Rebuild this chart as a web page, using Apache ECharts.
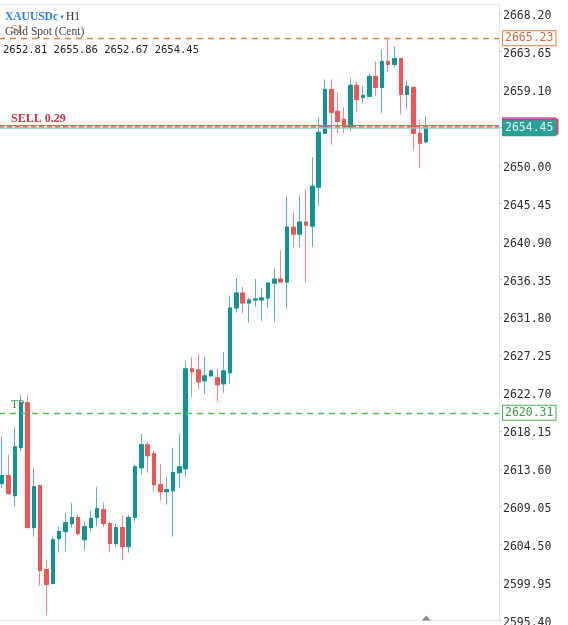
<!DOCTYPE html>
<html>
<head>
<meta charset="utf-8">
<title>XAUUSDc H1</title>
<script src="https://cdn.jsdelivr.net/npm/echarts@6/dist/echarts.min.js"></script>
<style>
  html, body { margin: 0; padding: 0; background: #fff; }
  #chart { width: 568px; height: 625px; }
</style>
</head>
<body>
<div id="chart"></div>
<script>
// hourly candles, oldest first
const opens = [2611.81, 2612.77, 2610.37, 2616.12, 2621.51, 2606.54, 2611.57, 2601.51, 2599.84, 2605.22,
  2606.06, 2607.02, 2607.74, 2605.10, 2606.54, 2607.74, 2608.69, 2607.02, 2604.62, 2606.54,
  2604.26, 2607.74, 2613.72, 2616.48, 2615.40, 2611.69, 2610.85, 2610.97, 2613.13, 2613.60,
  2625.58, 2625.46, 2624.14, 2624.74, 2624.50, 2623.78, 2625.10, 2632.88, 2634.68, 2633.48,
  2633.84, 2633.84, 2634.08, 2635.87, 2636.35, 2635.99, 2642.58, 2641.74, 2643.18, 2642.70,
  2647.37, 2653.83, 2659.10, 2656.47, 2655.51, 2654.55, 2659.58, 2658.14, 2658.26, 2660.66,
  2659.34, 2662.45, 2662.09, 2662.81, 2658.50, 2659.34, 2653.83, 2652.81]
const closes = [2612.77, 2610.61, 2616.24, 2621.51, 2606.54, 2611.45, 2601.39, 2599.72, 2605.10, 2606.06,
  2607.14, 2607.74, 2605.82, 2606.66, 2607.62, 2608.81, 2607.02, 2604.62, 2606.54, 2604.26,
  2607.74, 2613.84, 2616.48, 2615.16, 2611.69, 2610.85, 2611.09, 2613.13, 2613.84, 2625.58,
  2625.22, 2624.02, 2624.74, 2625.34, 2623.66, 2625.34, 2632.88, 2634.68, 2633.48, 2633.84,
  2633.96, 2634.08, 2635.87, 2636.35, 2635.99, 2642.58, 2641.74, 2643.18, 2642.82, 2647.49,
  2653.95, 2659.10, 2656.35, 2655.27, 2654.55, 2659.58, 2657.90, 2658.38, 2660.66, 2659.34,
  2662.45, 2662.09, 2662.81, 2658.50, 2659.46, 2653.83, 2652.64, 2654.45]
const highs = [2617.44, 2615.28, 2618.63, 2622.46, 2622.46, 2613.72, 2611.69, 2602.71, 2605.46, 2606.66,
  2608.33, 2609.53, 2608.10, 2607.26, 2608.57, 2611.45, 2609.53, 2607.26, 2607.02, 2607.98,
  2608.10, 2614.08, 2617.79, 2616.84, 2615.76, 2614.20, 2612.65, 2616.12, 2617.79, 2626.53,
  2627.01, 2627.37, 2627.01, 2625.34, 2625.58, 2627.61, 2634.32, 2636.47, 2635.39, 2634.08,
  2636.35, 2635.27, 2635.87, 2637.67, 2639.82, 2646.29, 2644.49, 2646.41, 2647.13, 2650.96,
  2655.75, 2660.30, 2660.30, 2658.74, 2656.95, 2660.42, 2660.06, 2659.46, 2661.02, 2662.45,
  2663.89, 2665.25, 2664.25, 2662.81, 2660.18, 2659.34, 2655.51, 2655.86]
const lows = [2611.33, 2610.49, 2609.05, 2615.64, 2606.42, 2605.46, 2599.60, 2596.12, 2599.72, 2603.55,
  2603.67, 2606.54, 2605.58, 2603.79, 2606.06, 2606.66, 2606.66, 2603.55, 2604.26, 2602.59,
  2603.55, 2607.26, 2612.89, 2613.13, 2610.85, 2609.77, 2609.29, 2605.46, 2611.33, 2612.53,
  2622.22, 2623.06, 2622.58, 2624.62, 2621.63, 2622.70, 2623.78, 2632.28, 2632.28, 2631.08,
  2633.00, 2631.32, 2632.88, 2631.20, 2635.99, 2632.76, 2640.18, 2640.18, 2635.99, 2640.18,
  2645.09, 2653.83, 2652.40, 2653.83, 2653.83, 2654.07, 2656.35, 2657.42, 2658.26, 2658.26,
  2656.23, 2661.14, 2661.73, 2656.11, 2656.71, 2651.80, 2649.76, 2652.67]

// 68 bars plus empty room on the right
const categories = []
for (let i = 0; i < 79; i++) categories.push(String(i))

// trade levels
const slPrice = 2665.23
const tpPrice = 2620.31
const askPrice = 2654.80
const sellPrice = 2654.62
const bidPrice = 2654.45
const lastBar = ['2652.81', '2655.86', '2652.67', '2654.45']

// right scale
const axisMin = 2595.40
const axisMax = 2668.20
const axisStep = 4.55

const UP = '#0f9393'
const DOWN = '#f05656'
const UP_WICK = '#5fb5b4'
const DOWN_WICK = '#f38686'
const MONO = 'DejaVu Sans Mono'
const SERIF = 'Liberation Serif'
const CLEAR = 'rgba(0,0,0,0)'

// full bars for the wicks, body-only bars drawn on top
const wickBars = opens.map((o, i) => [o, closes[i], lows[i], highs[i]])
const bodyBars = opens.map((o, i) => [o, closes[i], Math.min(o, closes[i]), Math.max(o, closes[i])])

function tag (text, color, bg, border, extra) {
  return Object.assign({
    show: true,
    position: 'end',
    distance: 4,
    formatter: text,
    color: color,
    backgroundColor: bg,
    borderColor: border,
    borderWidth: 1,
    padding: [2, 2, 0, 2],
    fontFamily: MONO,
    fontSize: 11.5,
    lineHeight: 12
  }, extra || {})
}

function sideLabel (text, color, bold) {
  return {
    show: true,
    position: 'insideStartTop',
    distance: [12, 2],
    formatter: text,
    color: color,
    fontFamily: SERIF,
    fontSize: bold ? 12 : 11.5,
    fontWeight: bold ? 'bold' : 'normal'
  }
}

const chart = echarts.init(document.getElementById('chart'), null, { renderer: 'canvas' })

chart.setOption({
  animation: false,
  backgroundColor: '#ffffff',
  grid: { left: -1, right: 69, top: 13.5, bottom: 4.5, containLabel: false, outerBoundsMode: 'none' },
  xAxis: {
    type: 'category',
    data: categories,
    boundaryGap: true,
    axisLine: { show: true, lineStyle: { color: '#e4e4e4' } },
    axisTick: { show: false },
    axisLabel: { show: false },
    splitLine: { show: false }
  },
  yAxis: {
    type: 'value',
    position: 'right',
    min: axisMin,
    max: axisMax,
    interval: axisStep,
    scale: true,
    axisLine: { show: true, lineStyle: { color: '#e4e4e4' } },
    axisTick: { show: true, length: 3, lineStyle: { color: '#cfcfcf' } },
    splitLine: { show: false },
    axisLabel: {
      margin: 4,
      color: '#2e2e2e',
      fontFamily: MONO,
      fontSize: 11.5,
      formatter: function (v) {
        // hidden behind the bid tag
        if (Math.abs(v - 2654.55) < 0.01) return ''
        return '{p|' + v.toFixed(2) + '}'
      },
      rich: {
        p: { padding: [5, 0, 0, 0], fontFamily: MONO, fontSize: 11.5, color: '#2e2e2e' }
      }
    }
  },
  graphic: [
    { type: 'line', shape: { x1: 0, y1: 4.5, x2: 499.5, y2: 4.5 }, style: { stroke: '#e6e6e6', lineWidth: 1 }, silent: true },
    { type: 'line', shape: { x1: 499.5, y1: 4.5, x2: 499.5, y2: 14 }, style: { stroke: '#e4e4e4', lineWidth: 1 }, silent: true },
    {
      type: 'text',
      left: 5,
      top: 11,
      z: 10,
      style: {
        text: '{a|XAUUSDc}{b| ▾ }{c|H1}',
        rich: {
          a: { fontFamily: SERIF, fontSize: 11.5, fontWeight: 'bold', fill: '#2f7fe6' },
          b: { fontFamily: 'DejaVu Sans', fontSize: 7, fill: '#2f7fe6' },
          c: { fontFamily: SERIF, fontSize: 11.5, fill: '#333' }
        }
      }
    },
    {
      type: 'text',
      left: 5,
      top: 26,
      z: 10,
      style: { text: 'Gold Spot (Cent)', fontFamily: SERIF, fontSize: 11.5, fill: '#444' }
    },
    {
      type: 'text',
      left: 3,
      top: 45,
      z: 10,
      style: { text: lastBar.join(' '), fontFamily: MONO, fontSize: 10.5, fill: '#222' }
    }
  ],
  series: [
    {
      name: 'wicks',
      type: 'candlestick',
      data: wickBars,
      barWidth: 4,
      silent: true,
      itemStyle: {
        color: UP_WICK,
        color0: DOWN_WICK,
        borderColor: UP_WICK,
        borderColor0: DOWN_WICK,
        borderColorDoji: UP_WICK,
        borderWidth: 1
      },
      markLine: {
        silent: true,
        symbol: ['none', 'none'],
        animation: false,
        data: [
          { yAxis: slPrice, lineStyle: { color: '#f0803a', type: [6, 5], width: 1.3 }, label: tag(slPrice.toFixed(2), '#c8704c', '#ffffff', '#ee7d33') },
          { yAxis: slPrice, lineStyle: { color: CLEAR, width: 0 }, label: sideLabel('SL', '#e0825a', false) },
          { yAxis: tpPrice, lineStyle: { color: '#52bb5c', type: [6, 5], width: 1.3 }, label: tag(tpPrice.toFixed(2), '#3f9a48', '#ffffff', '#4cb556') },
          { yAxis: tpPrice, lineStyle: { color: CLEAR, width: 0 }, label: sideLabel('TP', '#3d8a49', false) },
          { yAxis: askPrice, lineStyle: { color: '#b067e6', type: 'solid', width: 1 }, label: tag(askPrice.toFixed(2), '#ffffff', '#b067e6', '#b067e6') },
          { yAxis: sellPrice, lineStyle: { color: '#e5414f', type: [5, 3], width: 1.6 }, label: tag(sellPrice.toFixed(2), '#ffffff', '#e5414f', '#e5414f', { padding: [2, 4, 0, 2] }) },
          { yAxis: sellPrice, lineStyle: { color: CLEAR, width: 0 }, label: sideLabel('SELL 0.29', '#d4323f', true) },
          { yAxis: bidPrice, lineStyle: { color: '#86d0cb', type: 'solid', width: 1.5 }, label: tag(bidPrice.toFixed(2), '#e8f6f4', '#28a199', '#28a199') }
        ]
      },
      markPoint: {
        silent: true,
        animation: false,
        symbol: 'triangle',
        symbolSize: [9, 5],
        itemStyle: { color: '#8a8a8a' },
        label: { show: false },
        data: [{ coord: [67, 2595.70] }]
      }
    },
    {
      name: 'bodies',
      type: 'candlestick',
      data: bodyBars,
      barWidth: 4,
      silent: true,
      itemStyle: {
        color: UP,
        color0: DOWN,
        borderColor: UP,
        borderColor0: DOWN,
        borderColorDoji: UP,
        borderWidth: 1
      }
    }
  ]
})
</script>
</body>
</html>
